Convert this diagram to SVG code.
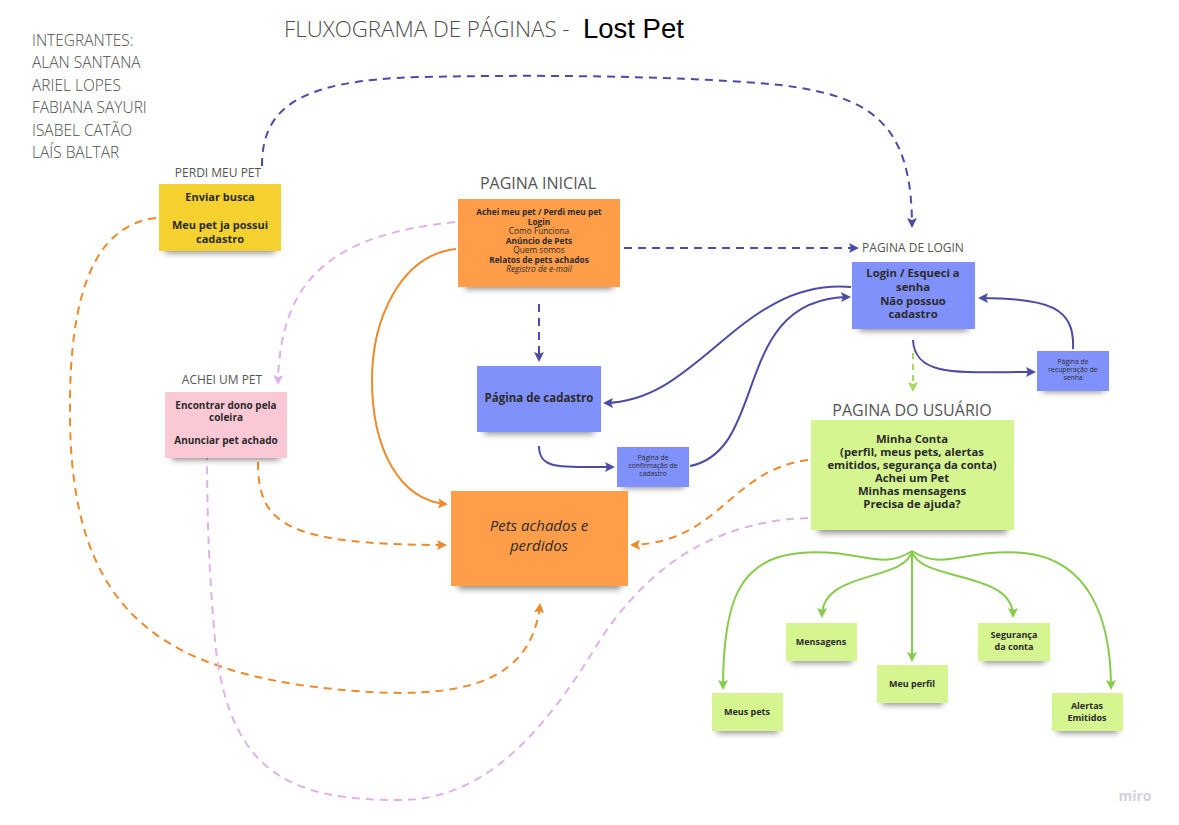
<svg xmlns="http://www.w3.org/2000/svg" width="1179" height="825" viewBox="0 0 1179 825">
<style>
.t{font-family:"Open Sans","DejaVu Sans",sans-serif;fill:#4d4d4d;font-weight:300}
.b{font-family:"Open Sans","DejaVu Sans",sans-serif;fill:#2b2b2b;font-weight:700;text-anchor:middle}
.r{font-family:"Open Sans","DejaVu Sans",sans-serif;fill:#2b2b2b;font-weight:400;text-anchor:middle}
.lbl{font-family:"Open Sans","DejaVu Sans",sans-serif;fill:#555;font-weight:400;text-anchor:middle}
.sh{fill:#000;opacity:.45;filter:url(#blur)}
.y{fill:#f4d12f}.o{fill:#ff9d48}.bl{fill:#8191fc}.p{fill:#fbc8d6}.g{fill:#d5f591}
.cb{fill:none;stroke:#4b4ca6;stroke-width:2}
.cbd{fill:none;stroke:#4b4ca6;stroke-width:2;stroke-dasharray:8 6}
.co{fill:none;stroke:#ee8a2c;stroke-width:2}
.cod{fill:none;stroke:#ee8a2c;stroke-width:2;stroke-dasharray:8 6}
.cpd{fill:none;stroke:#ddb3e6;stroke-width:2;stroke-dasharray:8 6}
.cg{fill:none;stroke:#86cc4c;stroke-width:2}
.cgd{fill:none;stroke:#a8d95e;stroke-width:2;stroke-dasharray:6 5}
</style>
<defs>
<filter id="blur" x="-20%" y="-100%" width="140%" height="300%"><feGaussianBlur stdDeviation="3"/></filter>
<marker id="mb" viewBox="0 0 10 10" refX="8" refY="5" markerWidth="10" markerHeight="10" markerUnits="userSpaceOnUse" orient="auto"><path d="M0,0 L10,5 L0,10 L2,5 z" fill="#4b4ca6"/></marker>
<marker id="mo" viewBox="0 0 10 10" refX="8" refY="5" markerWidth="10" markerHeight="10" markerUnits="userSpaceOnUse" orient="auto"><path d="M0,0 L10,5 L0,10 L2,5 z" fill="#ee8a2c"/></marker>
<marker id="mp" viewBox="0 0 10 10" refX="8" refY="5" markerWidth="10" markerHeight="10" markerUnits="userSpaceOnUse" orient="auto"><path d="M0,0 L10,5 L0,10 L2,5 z" fill="#ddb3e6"/></marker>
<marker id="mg" viewBox="0 0 10 10" refX="8" refY="5" markerWidth="10" markerHeight="10" markerUnits="userSpaceOnUse" orient="auto"><path d="M0,0 L10,5 L0,10 L2,5 z" fill="#86cc4c"/></marker>
<marker id="mgl" viewBox="0 0 10 10" refX="8" refY="5" markerWidth="10" markerHeight="10" markerUnits="userSpaceOnUse" orient="auto"><path d="M0,0 L10,5 L0,10 L2,5 z" fill="#a8d95e"/></marker>
</defs>
<rect width="1179" height="825" fill="#fff"/>

<g id="header">
<text class="t" x="284" y="37" font-size="22.3">FLUXOGRAMA DE PÁGINAS - </text>
<text x="583" y="38" font-family="'Liberation Sans',Arial,sans-serif" font-size="27.5" fill="#000">Lost Pet</text>
<text class="t" x="32" y="46" font-size="15.5">INTEGRANTES:</text>
<text class="t" x="32" y="68" font-size="15.5">ALAN SANTANA</text>
<text class="t" x="32" y="91" font-size="15.5">ARIEL LOPES</text>
<text class="t" x="32" y="113" font-size="15.5">FABIANA SAYURI</text>
<text class="t" x="32" y="136" font-size="15.5">ISABEL CATÃO</text>
<text class="t" x="32" y="158" font-size="15.5">LAÍS BALTAR</text>
</g>

<g id="connectors">
<path class="cbd" d="M262,166 C262,112 292,80 420,77 C560,74 700,77 780,85 C870,96 912,122 912,226" marker-end="url(#mb)"/>
<path class="cbd" d="M624,248 L857,248" marker-end="url(#mb)"/>
<path class="cbd" d="M539,304 L539,360" marker-end="url(#mb)"/>
<path class="cb" d="M851,287 C740,278 700,402 605,403" marker-end="url(#mb)"/>
<path class="cb" d="M690,466 C770,450 730,298 849,297" marker-end="url(#mb)"/>
<path class="cb" d="M539,446 C539,470 560,467 613,467" marker-end="url(#mb)"/>
<path class="cb" d="M913,340 C915,378 960,372 1034,372" marker-end="url(#mb)"/>
<path class="cb" d="M1073,349 C1075,308 1050,298 980,298" marker-end="url(#mb)"/>
<path class="cgd" d="M913,353 L913,390" marker-end="url(#mgl)"/>
<path class="co" d="M456,249 C400,255 372,320 372,380 C372,450 400,500 446,504" marker-end="url(#mo)"/>
<path class="cod" d="M156,218 C98,225 68,285 70,420 C72,600 150,662 300,685 C450,705 530,690 540,605" marker-end="url(#mo)"/>
<path class="cod" d="M258,462 C258,522 282,545 445,545" marker-end="url(#mo)"/>
<path class="cod" d="M808,460 C730,470 720,542 632,545" marker-end="url(#mo)"/>
<path class="cpd" d="M455,222 C330,235 280,280 278,383" marker-end="url(#mp)"/>
<path class="cpd" d="M808,518 C700,522 640,580 600,640 C540,740 480,800 400,800 C300,800 232,780 216,650 C208,570 207,500 207,447" marker-end="url(#mp)"/>
<path class="cg" d="M912,551 L912,660" marker-end="url(#mg)"/>
<path class="cg" d="M912,551 C905,582 822,570 822,616" marker-end="url(#mg)"/>
<path class="cg" d="M912,551 C919,582 1013,570 1013,616" marker-end="url(#mg)"/>
<path class="cg" d="M912,551 C880,572 860,548 800,553 C740,558 723,600 723,688" marker-end="url(#mg)"/>
<path class="cg" d="M912,551 C944,572 964,548 1024,553 C1090,560 1111,620 1111,688" marker-end="url(#mg)"/>
</g>

<g id="perdi-meu-pet">
<text class="lbl" x="218" y="177" font-size="12">PERDI MEU PET</text>
<rect class="sh" x="165" y="243" width="110" height="10"/>
<rect class="y" x="159" y="184" width="122" height="67"/>
<text class="b" x="220" y="201" font-size="11">Enviar busca</text>
<text class="b" x="220" y="229" font-size="11">Meu pet ja possui</text>
<text class="b" x="220" y="243" font-size="11">cadastro</text>
</g>

<g id="pagina-inicial">
<text class="lbl" x="538" y="189" font-size="16">PAGINA INICIAL</text>
<rect class="sh" x="465" y="279" width="148" height="10"/>
<rect class="o" x="458" y="199" width="162" height="88"/>
<text class="b" x="539" y="215" font-size="8.3" font-weight="600">Achei meu pet / Perdi meu pet</text>
<text class="b" x="539" y="224.5" font-size="8.3" font-weight="600">Login</text>
<text class="r" x="539" y="234" font-size="8.3">Como Funciona</text>
<text class="b" x="539" y="243.5" font-size="8.3" font-weight="600">Anúncio de Pets</text>
<text class="r" x="539" y="253" font-size="8.3">Quem somos</text>
<text class="b" x="539" y="262.5" font-size="8.3" font-weight="600">Relatos de pets achados</text>
<text class="r" x="539" y="272" font-size="8.3" font-style="italic">Registro de e-mail</text>
</g>

<g id="pagina-login">
<text class="lbl" x="913" y="252" font-size="12">PAGINA DE LOGIN</text>
<rect class="sh" x="859" y="321" width="109" height="10"/>
<rect class="bl" x="852" y="262" width="123" height="67"/>
<text class="b" x="913" y="277" font-size="11.3">Login / Esqueci a</text>
<text class="b" x="913" y="291" font-size="11.3">senha</text>
<text class="b" x="913" y="305" font-size="11.3">Não possuo</text>
<text class="b" x="913" y="318" font-size="11.3">cadastro</text>
</g>

<g id="recuperacao-senha">
<rect class="sh" x="1042" y="383" width="62" height="9"/>
<rect class="bl" x="1037" y="351" width="72" height="40"/>
<text class="r" x="1073" y="364" font-size="6.8" font-weight="600">Página de</text>
<text class="r" x="1073" y="372" font-size="6.8" font-weight="600">recuperação de</text>
<text class="r" x="1073" y="380" font-size="6.8" font-weight="600">senha</text>
</g>

<g id="pagina-cadastro">
<rect class="sh" x="484" y="424" width="110" height="10"/>
<rect class="bl" x="477" y="366" width="124" height="66"/>
<text class="b" x="539" y="402" font-size="11.5">Página de cadastro</text>
</g>

<g id="confirmacao-cadastro">
<rect class="sh" x="622" y="479" width="62" height="9"/>
<rect class="bl" x="617" y="447" width="72" height="40"/>
<text class="r" x="653" y="460" font-size="6.8" font-weight="600">Página de</text>
<text class="r" x="653" y="468" font-size="6.8" font-weight="600">confirmação de</text>
<text class="r" x="653" y="476" font-size="6.8" font-weight="600">cadastro</text>
</g>

<g id="achei-um-pet">
<text class="lbl" x="222" y="384" font-size="12">ACHEI UM PET</text>
<rect class="sh" x="172" y="450" width="108" height="10"/>
<rect class="p" x="165" y="392" width="122" height="66"/>
<text class="b" x="226" y="409" font-size="10">Encontrar dono pela</text>
<text class="b" x="226" y="421" font-size="10">coleira</text>
<text class="b" x="226" y="444" font-size="10">Anunciar pet achado</text>
</g>

<g id="pets-achados-perdidos">
<rect class="sh" x="458" y="578" width="163" height="11"/>
<rect class="o" x="451" y="491" width="177" height="95"/>
<text class="r" x="539" y="531" font-size="15" font-style="italic" fill="#333">Pets achados e</text>
<text class="r" x="539" y="551" font-size="15" font-style="italic" fill="#333">perdidos</text>
</g>

<g id="pagina-usuario">
<text class="lbl" x="912" y="416" font-size="16">PAGINA DO USUÁRIO</text>
<rect class="sh" x="818" y="522" width="189" height="11"/>
<rect class="g" x="811" y="420" width="203" height="110"/>
<text class="b" x="912" y="443" font-size="11.3">Minha Conta</text>
<text class="b" x="912" y="456" font-size="11.3">(perfil, meus pets, alertas</text>
<text class="b" x="912" y="469" font-size="11.3">emitidos, segurança da conta)</text>
<text class="b" x="912" y="482" font-size="11.3">Achei um Pet</text>
<text class="b" x="912" y="495" font-size="11.3">Minhas mensagens</text>
<text class="b" x="912" y="508" font-size="11.3">Precisa de ajuda?</text>
</g>

<g id="mensagens">
<rect class="sh" x="791" y="654" width="61" height="9"/>
<rect class="g" x="786" y="623" width="71" height="38"/>
<text class="b" x="821" y="645" font-size="9">Mensagens</text>
</g>
<g id="meu-perfil">
<rect class="sh" x="882" y="696" width="61" height="9"/>
<rect class="g" x="877" y="665" width="71" height="38"/>
<text class="b" x="912" y="687" font-size="9">Meu perfil</text>
</g>
<g id="seguranca-conta">
<rect class="sh" x="983" y="654" width="62" height="9"/>
<rect class="g" x="978" y="623" width="72" height="38"/>
<text class="b" x="1014" y="638" font-size="9">Segurança</text>
<text class="b" x="1014" y="650" font-size="9">da conta</text>
</g>
<g id="meus-pets">
<rect class="sh" x="717" y="724" width="61" height="9"/>
<rect class="g" x="712" y="693" width="71" height="38"/>
<text class="b" x="747" y="715" font-size="9">Meus pets</text>
</g>
<g id="alertas-emitidos">
<rect class="sh" x="1057" y="724" width="61" height="9"/>
<rect class="g" x="1052" y="693" width="71" height="38"/>
<text class="b" x="1087" y="709" font-size="9">Alertas</text>
<text class="b" x="1087" y="721" font-size="9">Emitidos</text>
</g>

<text x="1135" y="801" text-anchor="middle" font-family="'Open Sans',sans-serif" font-weight="700" font-size="14" fill="#d3d3d8">miro</text>
</svg>
